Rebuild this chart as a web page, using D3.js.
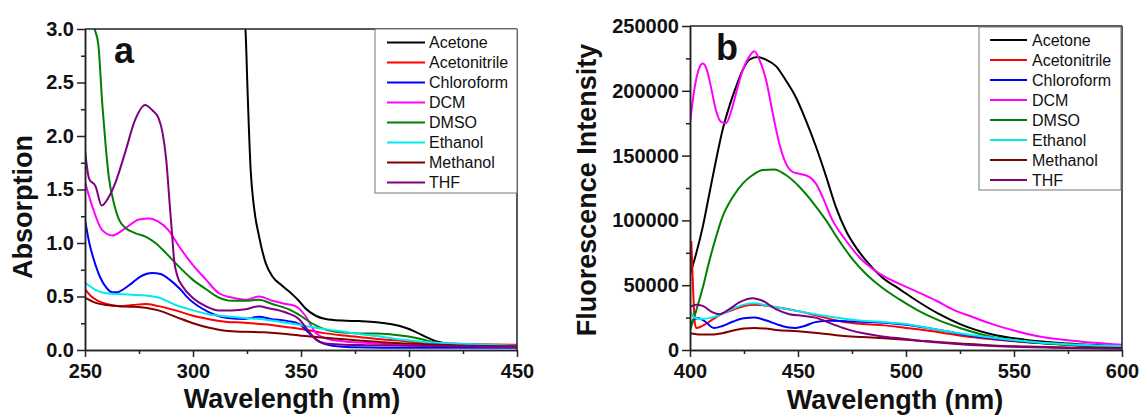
<!DOCTYPE html>
<html>
<head>
<meta charset="utf-8">
<script src="https://cdn.jsdelivr.net/npm/d3@7"></script>
<style>
  html, body { margin: 0; padding: 0; background: #fff; }
  svg { display: block; }
</style>
</head>
<body>
<svg id="chart" width="1142" height="416"></svg>
<script>
// ---------------- DATA ----------------
const solvents = ["Acetone", "Acetonitrile", "Chloroform", "DCM", "DMSO", "Ethanol", "Methanol", "THF"];

// Panel a: absorption spectra [wavelength nm, absorbance]
const absAcetone = [[321,3.7],[323,3.25],[324.4,2.95],[325.2,2.46],[326.7,1.68],[328.2,1.34],[330.6,1.06],[333.7,0.81],[336.7,0.69],[341.3,0.6],[346,0.52],[349,0.46],[352,0.39],[356.8,0.32],[361.4,0.29],[369,0.275],[377,0.27],[385,0.26],[392,0.24],[398,0.21],[403,0.17],[408,0.12],[412,0.085],[416,0.065],[420,0.055],[430,0.05],[450,0.045]];
const absAcetonitrile = [[250,0.57],[253,0.5],[256,0.46],[260,0.43],[266,0.41],[272,0.42],[278,0.43],[284,0.41],[292,0.37],[300,0.32],[307,0.29],[315,0.265],[324,0.255],[333,0.24],[343,0.215],[352,0.19],[360,0.16],[370,0.135],[380,0.115],[390,0.095],[400,0.08],[410,0.07],[420,0.06],[435,0.052],[450,0.048]];
const absChloroform = [[250,1.22],[252,1.0],[254,0.85],[257,0.68],[260,0.58],[262.5,0.54],[265,0.54],[268,0.57],[272,0.63],[276,0.69],[281,0.72],[285,0.71],[289,0.66],[294,0.57],[298,0.48],[304,0.39],[310,0.33],[316,0.3],[324,0.29],[330.5,0.31],[336,0.29],[344,0.27],[349,0.245],[353.7,0.16],[358.3,0.08],[362,0.05],[368,0.032],[375,0.025],[400,0.02],[450,0.02]];
const absDCM = [[250,1.57],[253.4,1.34],[258,1.12],[262.7,1.07],[268.8,1.14],[275,1.22],[279.6,1.23],[284,1.2],[288.6,1.12],[293.5,0.97],[299.7,0.8],[305.9,0.66],[312,0.53],[318,0.49],[324.4,0.47],[330.6,0.5],[336.7,0.46],[343,0.43],[347.5,0.41],[352,0.32],[356.8,0.16],[361.4,0.11],[370,0.08],[377,0.07],[390,0.055],[400,0.05],[420,0.04],[450,0.03]];
const absDMSO = [[250,3.9],[252,3.45],[254,3.05],[256.2,2.85],[258,2.3],[259.6,1.9],[261,1.62],[263.4,1.37],[265.7,1.22],[268.8,1.14],[273.5,1.09],[278,1.06],[282.6,1.0],[287.3,0.91],[292,0.81],[299.7,0.66],[305.9,0.57],[312,0.49],[318,0.46],[324.4,0.46],[330.6,0.47],[336.7,0.43],[344.4,0.38],[349,0.33],[355,0.25],[361.4,0.19],[368,0.165],[377,0.155],[385,0.155],[392,0.145],[398,0.13],[404,0.11],[410,0.08],[415,0.06],[420,0.05],[435,0.042],[450,0.04]];
const absEthanol = [[250,0.63],[255,0.56],[260,0.53],[268,0.52],[278,0.51],[284,0.49],[292,0.42],[300,0.37],[307,0.335],[315,0.315],[324,0.3],[333,0.285],[343,0.255],[352,0.225],[361,0.195],[370,0.17],[377,0.15],[385,0.13],[395,0.1],[405,0.08],[420,0.06],[435,0.05],[450,0.04]];
const absMethanol = [[250,0.49],[255,0.44],[260,0.42],[266,0.41],[272,0.405],[278,0.395],[284,0.37],[292,0.31],[300,0.25],[307,0.21],[315,0.18],[324,0.17],[333,0.165],[343,0.15],[352,0.13],[361,0.115],[370,0.1],[380,0.085],[390,0.07],[400,0.06],[420,0.045],[450,0.035]];
const absTHF = [[250,1.87],[251.9,1.6],[254.9,1.53],[257.7,1.35],[261,1.43],[264,1.56],[268.5,1.84],[273.2,2.15],[277.8,2.29],[281.2,2.24],[284,2.17],[286,2.02],[287.6,1.78],[289.3,1.34],[290.4,1.06],[291.2,0.85],[292.8,0.69],[295,0.6],[299.7,0.49],[305.9,0.41],[312,0.37],[318,0.37],[324.4,0.38],[330.6,0.41],[335,0.39],[343,0.35],[349,0.29],[353,0.19],[356.8,0.1],[361.4,0.06],[370,0.05],[380,0.045],[400,0.04],[450,0.03]];

// Panel b: fluorescence spectra [wavelength nm, intensity]
const flAcetone = [[400,58000],[402.8,74000],[405.9,95000],[409,121000],[412,146000],[415.1,170000],[418.2,188000],[421.3,203000],[424.4,216000],[427.5,224000],[431.3,226000],[435.2,224000],[439.8,219000],[444.4,208000],[449,195000],[453.7,177000],[458.3,157000],[463,134000],[467.6,110000],[472.2,92000],[476.9,79000],[481.5,69000],[489,56000],[497,47000],[505,38000],[515,28000],[525,20000],[540,12000],[555,8000],[575,5000],[600,3000]];
const flAcetonitrile = [[400.6,84000],[401,66000],[401.6,40000],[402.3,20000],[403,17000],[405,18000],[410,23000],[415,28000],[420,31000],[425,34000],[430,35000],[440,33000],[450,30000],[460,26000],[470,22000],[480,20000],[490,19000],[500,17000],[510,15000],[520,12500],[530,10000],[545,7500],[560,5500],[580,3500],[600,2500]];
const flChloroform = [[400,18000],[402,24000],[404,24500],[407,22000],[411,17000],[415,18500],[420,22000],[425,24500],[430,25000],[435,23000],[440,20000],[445,17500],[449,17000],[453,18500],[458,21500],[465,22500],[475,22000],[490,21000],[500,19500],[510,17000],[520,14000],[530,11000],[545,8000],[560,5500],[580,3500],[600,2000]];
const flDCM = [[400,175000],[402,201000],[404.3,217600],[405.9,221000],[407.5,217600],[409.7,203000],[412,185000],[414.4,176000],[416.7,175000],[419,184000],[421.3,198000],[424.4,216000],[427.5,226600],[429.8,230500],[432.1,224000],[435.2,208500],[438.3,182700],[441.4,159000],[444.4,144000],[447.5,137500],[450.6,136000],[455.2,133600],[458.3,128400],[461.4,118000],[466,100000],[472.2,84500],[478.4,71600],[484.6,62500],[490.7,56000],[497,51000],[505,45000],[514,38000],[522,31000],[530,26000],[540,20000],[550,15000],[560,11000],[575,7500],[600,4000]];
const flDMSO = [[400,15000],[402.8,30000],[405.9,48000],[409,69000],[412,87000],[415,102600],[419.8,118000],[424.4,128400],[429,135000],[433.6,138800],[439,139300],[444.4,135000],[450.6,126000],[456.8,114000],[463,100000],[469,84500],[475.3,70000],[481.5,58700],[489,48000],[497,39000],[505,31000],[515,23000],[525,17000],[540,10000],[555,6500],[575,4000],[600,2500]];
const flEthanol = [[400,31000],[402,25000],[405,24000],[410,25000],[415,28000],[420,32000],[425,35000],[430,36000],[435,34500],[440,33000],[450,30000],[460,27000],[470,24500],[480,22500],[490,21500],[500,20000],[510,17000],[520,14000],[530,11500],[545,8500],[560,6000],[580,4000],[600,3000]];
const flMethanol = [[400,13000],[405,12000],[410,12000],[415,13000],[420,15000],[425,16500],[430,17000],[435,16500],[440,15500],[450,14500],[460,13000],[470,11000],[480,10000],[490,9000],[500,8000],[520,5500],[540,3500],[560,2500],[580,1800],[600,1500]];
const flTHF = [[400,33000],[402.8,35000],[405.9,34000],[410.5,29000],[413.6,27600],[418.2,31500],[422.8,36700],[429,40000],[433.6,38000],[439.8,31500],[446,27600],[452,26400],[458,25000],[466,20000],[473.7,15500],[481.5,12500],[489,10500],[497,9000],[510,6500],[525,4500],[550,2500],[575,1500],[600,1000]];

// Axis ticks
const absXTicks = [250, 300, 350, 400, 450];
const absXMinor = [275, 325, 375, 425];
const absYTicks = [0, 0.5, 1.0, 1.5, 2.0, 2.5, 3.0];
const absYMinor = [0.25, 0.75, 1.25, 1.75, 2.25, 2.75];
const flXTicks = [400, 450, 500, 550, 600];
const flXMinor = [425, 475, 525, 575];
const flYTicks = [0, 50000, 100000, 150000, 200000, 250000];
const flYMinor = [25000, 75000, 125000, 175000, 225000];

// ---------------- STYLE ----------------
const colors = ["#000000", "#ff0000", "#0000ff", "#ff00ff", "#008000", "#00eaf0", "#800000", "#800080"];
const FONT = "'Liberation Sans', Arial, Helvetica, sans-serif";

const svg = d3.select("#chart");
svg.append("rect").attr("width", 1142).attr("height", 416).attr("fill", "#fff");

function drawPanel(cfg) {
  const g = svg.append("g");
  const x = d3.scaleLinear().domain(cfg.xDomain).range([cfg.left, cfg.right]);
  const y = d3.scaleLinear().domain(cfg.yDomain).range([cfg.bottom, cfg.top]);

  const clipId = "clip-" + cfg.id;
  svg.append("defs").append("clipPath").attr("id", clipId)
    .append("rect")
    .attr("x", cfg.left).attr("y", cfg.top)
    .attr("width", cfg.right - cfg.left).attr("height", cfg.bottom - cfg.top);

  const line = d3.line()
    .x(d => x(d[0])).y(d => y(d[1]))
    .curve(d3.curveMonotoneX);

  const lines = g.append("g").attr("clip-path", `url(#${clipId})`);
  cfg.series.forEach((s, i) => {
    lines.append("path")
      .datum(s)
      .attr("fill", "none")
      .attr("stroke", colors[i])
      .attr("stroke-width", 2)
      .attr("stroke-linejoin", "round")
      .attr("d", line);
  });

  // frame top / right
  g.append("line").attr("x1", cfg.left).attr("x2", cfg.right).attr("y1", cfg.top).attr("y2", cfg.top)
    .attr("stroke", "#222").attr("stroke-width", 1.5);
  g.append("line").attr("x1", cfg.right).attr("x2", cfg.right).attr("y1", cfg.top).attr("y2", cfg.bottom)
    .attr("stroke", "#222").attr("stroke-width", 1.5);

  // axes
  const styleAxis = sel => {
    sel.attr("font-family", FONT).attr("font-size", 20).attr("font-weight", "bold");
    sel.selectAll("path.domain").attr("stroke", "#222").attr("stroke-width", 1.5);
    sel.selectAll(".tick line").attr("stroke", "#222").attr("stroke-width", 1.5);
    sel.selectAll(".tick text").attr("fill", "#111");
  };

  g.append("g").attr("transform", `translate(0,${cfg.bottom})`)
    .call(d3.axisBottom(x).tickValues(cfg.xMinor).tickSize(4).tickSizeOuter(0).tickFormat(""))
    .call(styleAxis);
  g.append("g").attr("transform", `translate(${cfg.left},0)`)
    .call(d3.axisLeft(y).tickValues(cfg.yMinor).tickSize(4).tickSizeOuter(0).tickFormat(""))
    .call(styleAxis);
  g.append("g").attr("transform", `translate(0,${cfg.bottom})`)
    .call(d3.axisBottom(x).tickValues(cfg.xTicks).tickSize(7).tickPadding(7).tickSizeOuter(0).tickFormat(cfg.xFmt))
    .call(styleAxis);
  g.append("g").attr("transform", `translate(${cfg.left},0)`)
    .call(d3.axisLeft(y).tickValues(cfg.yTicks).tickSize(8).tickPadding(3).tickSizeOuter(0).tickFormat(cfg.yFmt))
    .call(styleAxis);

  // titles
  g.append("text")
    .attr("x", cfg.xTitlePos[0]).attr("y", cfg.xTitlePos[1])
    .attr("text-anchor", "middle")
    .attr("font-family", FONT).attr("font-weight", "bold").attr("font-size", 27)
    .attr("fill", "#111")
    .text(cfg.xTitle);
  g.append("text")
    .attr("transform", `translate(${cfg.yTitlePos[0]},${cfg.yTitlePos[1]}) rotate(-90)`)
    .attr("text-anchor", "middle")
    .attr("font-family", FONT).attr("font-weight", "bold").attr("font-size", 27)
    .attr("fill", "#111")
    .text(cfg.yTitle);

  // panel label
  g.append("text")
    .attr("x", cfg.labelPos[0]).attr("y", cfg.labelPos[1])
    .attr("font-family", FONT).attr("font-weight", "bold").attr("font-size", 36)
    .attr("fill", "#111")
    .text(cfg.label);

  // legend
  const L = cfg.legend;
  const lg = g.append("g");
  lg.append("rect")
    .attr("x", L.x0).attr("y", L.y0).attr("width", L.x1 - L.x0).attr("height", L.y1 - L.y0)
    .attr("fill", "#fff").attr("stroke", "#777").attr("stroke-width", 1);
  solvents.forEach((name, i) => {
    const yy = L.row0 + i * 20;
    lg.append("line").attr("x1", L.lx0).attr("x2", L.lx1).attr("y1", yy).attr("y2", yy)
      .attr("stroke", colors[i]).attr("stroke-width", 2);
    lg.append("text").attr("x", L.tx).attr("y", yy + 5.5)
      .attr("font-family", FONT).attr("font-size", 16).attr("fill", "#111")
      .text(name);
  });
}

drawPanel({
  id: "a",
  left: 85, right: 517, top: 29, bottom: 350,
  xDomain: [250, 450], yDomain: [0, 3.0],
  series: [absAcetone, absAcetonitrile, absChloroform, absDCM, absDMSO, absEthanol, absMethanol, absTHF],
  xTicks: absXTicks, xMinor: absXMinor, yTicks: absYTicks, yMinor: absYMinor,
  xFmt: d3.format("d"), yFmt: d3.format(".1f"),
  xTitle: "Wavelength (nm)", yTitle: "Absorption",
  xTitlePos: [292, 408], yTitlePos: [32, 207],
  label: "a", labelPos: [114, 63],
  legend: { x0: 375, x1: 517, y0: 29, y1: 193, row0: 42.5, lx0: 387, lx1: 425, tx: 429 }
});

drawPanel({
  id: "b",
  left: 690, right: 1122, top: 26, bottom: 350,
  xDomain: [400, 600], yDomain: [0, 250000],
  series: [flAcetone, flAcetonitrile, flChloroform, flDCM, flDMSO, flEthanol, flMethanol, flTHF],
  xTicks: flXTicks, xMinor: flXMinor, yTicks: flYTicks, yMinor: flYMinor,
  xFmt: d3.format("d"), yFmt: d3.format("d"),
  xTitle: "Wavelength (nm)", yTitle: "Fluorescence Intensity",
  xTitlePos: [895, 409], yTitlePos: [596, 190],
  label: "b", labelPos: [716, 60],
  legend: { x0: 979, x1: 1121, y0: 27, y1: 190, row0: 40, lx0: 990, lx1: 1027, tx: 1032 }
});
</script>
</body>
</html>
